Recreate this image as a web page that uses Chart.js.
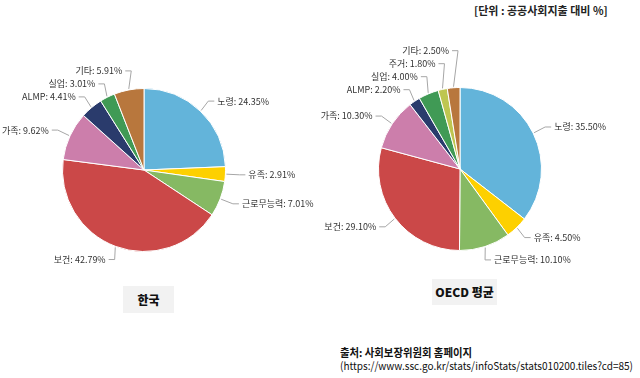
<!DOCTYPE html>
<html>
<head>
<meta charset="utf-8">
<script src="https://cdn.jsdelivr.net/npm/chart.js@4.4.0/dist/chart.umd.min.js"></script>
<style>
  body { margin: 0; background: #fff; width: 640px; height: 378px; position: relative; overflow: hidden;
         font-family: 'Noto Sans CJK KR', 'Noto Sans', sans-serif; }
  canvas { position: absolute; }
  #unit { position: absolute; left: 474px; top: 2px; font-size: 11px; font-weight: 700; color: #222; white-space: nowrap; }
  .box { position: absolute; background: #f2f2f2; font-size: 12px; font-weight: 900; color: #111;
         text-align: center; }
  #boxKr { left: 123px; top: 286px; width: 51px; height: 27px; line-height: 27px; }
  #boxOecd { left: 432px; top: 279px; width: 65px; height: 26px; line-height: 26px; }
  .src { position: absolute; left: 340px; font-size: 11px; color: #111; line-height: 13px; white-space: nowrap;
         transform-origin: left center; }
  #src1 { top: 346px; font-weight: 700; }
  #src2 { top: 359px; }
</style>
</head>
<body>
<div id="unit">[단위 : 공공사회지출 대비 %]</div>
<canvas id="krChart" width="320" height="260" style="left:0px;top:30px;"></canvas>
<canvas id="oecdChart" width="320" height="260" style="left:320px;top:30px;"></canvas>
<div class="box" id="boxKr">한국</div>
<div class="box" id="boxOecd">OECD 평균</div>
<div class="src" id="src1">출처: 사회보장위원회 홈페이지</div>
<div class="src" id="src2">(https://www.ssc.go.kr/stats/infoStats/stats010200.tiles?cd=85)</div>
<script>
const krLabels = ['노령', '유족', '근로무능력', '보건', '가족', 'ALMP', '실업', '기타'];
const krValues = [24.35, 2.91, 7.01, 42.79, 9.62, 4.41, 3.01, 5.91];

const oecdLabels = ['노령', '유족', '근로무능력', '보건', '가족', 'ALMP', '실업', '주거', '기타'];
const oecdValues = [35.50, 4.50, 10.10, 29.10, 10.30, 2.20, 4.00, 1.80, 2.50];

const categoryColors = {
    '노령': '#63b4da',
    '유족': '#fdd000',
    '근로무능력': '#86b963',
    '보건': '#cb4848',
    '가족': '#cc7eab',
    'ALMP': '#2a3b6c',
    '실업': '#409a55',
    '주거': '#bec650',
    '기타': '#b8773d'
};

// 출처 문구는 원본처럼 좁게
function squeeze(id, targetWidth) {
    const el = document.getElementById(id);
    const w = el.getBoundingClientRect().width;
    if (w > 0) el.style.transform = 'scaleX(' + (targetWidth / w) + ')';
}
squeeze('src1', 132);
squeeze('src2', 293);

// 바깥쪽 라벨 + 연결선
const outsideLabels = {
    id: 'outsideLabels',
    afterDatasetsDraw(chart) {
        const ctx = chart.ctx;
        const meta = chart.getDatasetMeta(0);
        const values = chart.data.datasets[0].data;
        const items = [];
        meta.data.forEach((arc, i) => {
            const mid = (arc.startAngle + arc.endAngle) / 2;
            const r = arc.outerRadius;
            const cos = Math.cos(mid), sin = Math.sin(mid);
            items.push({
                text: chart.data.labels[i] + ': ' + values[i].toFixed(2) + '%',
                side: cos >= 0 ? 1 : -1,
                px: arc.x + cos * (r + 1),
                py: arc.y + sin * (r + 1),
                ax: arc.x + cos * (r + 20),
                ay: arc.y + sin * (r + 14)
            });
        });

        // 겹치는 라벨은 위로 밀어 올림
        const gap = 13;
        [1, -1].forEach(side => {
            const list = items.filter(it => it.side === side).sort((a, b) => b.ay - a.ay);
            for (let j = 1; j < list.length; j++) {
                if (list[j - 1].ay - list[j].ay < gap) list[j].ay = list[j - 1].ay - gap;
            }
        });

        ctx.save();
        ctx.font = '9px "Noto Sans CJK KR", sans-serif';
        ctx.textBaseline = 'middle';
        ctx.fillStyle = '#333';
        ctx.strokeStyle = '#a6a6a6';
        ctx.lineWidth = 1;
        items.forEach(it => {
            const ex = it.ax - it.side * 6;
            ctx.beginPath();
            ctx.moveTo(it.px, it.py);
            ctx.lineTo(ex, it.ay);
            ctx.lineTo(it.ax, it.ay);
            ctx.stroke();
            ctx.textAlign = it.side > 0 ? 'left' : 'right';
            ctx.fillText(it.text, it.ax + it.side * 3, it.ay);
        });
        ctx.restore();
    }
};

function makePie(id, labels, values, padding) {
    return new Chart(document.getElementById(id).getContext('2d'), {
        type: 'pie',
        data: {
            labels: labels,
            datasets: [{
                data: values,
                backgroundColor: labels.map(l => categoryColors[l]),
                borderColor: '#ffffff',
                borderWidth: 1
            }]
        },
        options: {
            responsive: false,
            animation: false,
            layout: { padding: padding },
            plugins: {
                legend: { display: false },
                tooltip: { enabled: false }
            }
        },
        plugins: [outsideLabels]
    });
}

makePie('krChart', krLabels, krValues, { left: 62, right: 94, top: 58, bottom: 38 });
makePie('oecdChart', oecdLabels, oecdValues, { left: 58, right: 98, top: 57, bottom: 39 });
</script>
</body>
</html>
